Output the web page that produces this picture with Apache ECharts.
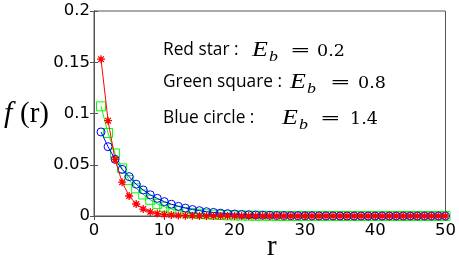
<!DOCTYPE html>
<html><head><meta charset="utf-8">
<script src="https://cdn.jsdelivr.net/npm/echarts@6/dist/echarts.min.js"></script>
<style>html,body{margin:0;padding:0;background:#fff}#c{width:459px;height:257px}</style>
</head><body><div id="c"></div>
<script>
var rValues = [];
for (var i = 1; i <= 50; i++) rValues.push(i);
var redStar = [0.153,0.093,0.055,0.033,0.0195,0.0117,0.0068,0.004,0.0024,0.0014,0.0009,0.0005,0.0003,0.0002,0.0001,0.0001,0,0,0,0,0,0,0,0,0,0,0,0,0,0,0,0,0,0,0,0,0,0,0,0,0,0,0,0,0,0,0,0,0,0];
var greenSquare = [0.107,0.081,0.061,0.0465,0.035,0.027,0.021,0.0158,0.0118,0.009,0.0068,0.0052,0.0039,0.003,0.0022,0.0017,0.0013,0.001,0.0007,0.0005,0.0004,0.0003,0.0002,0.0002,0.0001,0.0001,0,0,0,0,0,0,0,0,0,0,0,0,0,0,0,0,0,0,0,0,0,0,0,0];
var blueCircle = [0.082,0.0676,0.0553,0.0455,0.0384,0.031,0.0254,0.0207,0.0172,0.014,0.0115,0.0094,0.0077,0.0063,0.0052,0.0042,0.0035,0.0028,0.0023,0.0019,0.0015,0.0012,0.001,0.0008,0.0007,0.0005,0.0004,0.0003,0.0003,0.0002,0.0002,0.0001,0.0001,0.0001,0,0,0,0,0,0,0,0,0,0,0,0,0,0,0,0];
var xTicks = [0,10,20,30,40,50];
var yTicks = [0,0.05,0.1,0.15,0.2];
var legendLabels = ['Red star :', 'Green square :', 'Blue circle :'];
var legendValues = ['0.2', '0.8', '1.4'];
var xName = 'r';

function pairs(arr){ return arr.map(function(v,i){ return [rValues[i], v]; }); }
var chart = echarts.init(document.getElementById('c'), null, {renderer:'canvas'});
var axisColor = '#555';
var tickFont = {fontFamily:'DejaVu Sans', fontSize:16.5, color:'#000'};
var starPath = 'path://M0,-10L0,10M-10,0L10,0M-7,-7L7,7M-7,7L7,-7';

// layout of annotation lines (positions only)
var lineLayout = [
  {cy:50, eX:252, eqX:290, vX:317},
  {cy:82, eX:290, eqX:330, vX:358},
  {cy:118, eX:282, eqX:320, vX:350}
];
var graphics = [
  {type:'text', x:4, y:114, style:{text:'f', fontFamily:'Liberation Serif', fontStyle:'italic', fontSize:30, fill:'#000', verticalAlign:'middle'}},
  {type:'text', x:20, y:114, style:{text:'(r)', fontFamily:'Liberation Serif', fontSize:29, fill:'#000', verticalAlign:'middle'}},
  {type:'text', x:267, y:247, style:{text:xName, fontFamily:'Liberation Serif', fontSize:29, fill:'#000', verticalAlign:'middle'}}
];
lineLayout.forEach(function(L, k){
  graphics.push({type:'text', x:163, y:L.cy, style:{text:legendLabels[k], fontFamily:'Open Sans', fontSize:17.3, fill:'#000', verticalAlign:'middle'}});
  graphics.push({type:'text', x:L.eX, y:L.cy+1, scaleX:1.3, style:{text:'E', fontFamily:'Liberation Serif', fontStyle:'italic', fontSize:20, fill:'#000', verticalAlign:'middle'}});
  graphics.push({type:'text', x:L.eX+17, y:L.cy+7, scaleX:1.15, style:{text:'b', fontFamily:'Liberation Serif', fontStyle:'italic', fontSize:15.5, fill:'#000', verticalAlign:'middle'}});
  graphics.push({type:'text', x:L.eqX, y:L.cy+1, scaleX:1.45, style:{text:'=', fontFamily:'DejaVu Serif', fontSize:17, fill:'#000', verticalAlign:'middle'}});
  graphics.push({type:'text', x:L.vX, y:L.cy+1, style:{text:legendValues[k], fontFamily:'DejaVu Serif', fontSize:17.5, fill:'#000', verticalAlign:'middle'}});
});

chart.setOption({
  animation:false,
  grid:{left:94, right:13, top:11, bottom:41, show:true, borderColor:axisColor, borderWidth:1},
  xAxis:[{type:'value', min:0, max:50, interval:10,
    axisLine:{show:true, lineStyle:{color:axisColor}},
    axisTick:{show:true, inside:true, length:4, lineStyle:{color:axisColor}},
    splitLine:{show:false},
    axisLabel:Object.assign({margin:6, formatter:function(v){return String(v);}}, tickFont)
  },{type:'value', min:0, max:50, interval:10, position:'top',
    axisLine:{show:true, lineStyle:{color:axisColor}},
    axisTick:{show:true, inside:true, length:4, lineStyle:{color:axisColor}},
    splitLine:{show:false}, axisLabel:{show:false}}],
  yAxis:[{type:'value', min:0, max:0.2, interval:0.05,
    axisLine:{show:true, lineStyle:{color:axisColor}},
    axisTick:{show:true, inside:true, length:4, lineStyle:{color:axisColor}},
    splitLine:{show:false},
    axisLabel:Object.assign({margin:4, formatter:function(v){return String(+v.toFixed(2));}}, tickFont)
  },{type:'value', min:0, max:0.2, interval:0.05, position:'right',
    axisLine:{show:true, lineStyle:{color:axisColor}},
    axisTick:{show:true, inside:true, length:4, lineStyle:{color:axisColor}},
    splitLine:{show:false}, axisLabel:{show:false}}],
  series:[
    {type:'line', data:pairs(greenSquare), symbol:'rect', symbolSize:9,
      lineStyle:{color:'#00ff00', width:1}, itemStyle:{color:'rgba(0,0,0,0)', borderColor:'#00ff00', borderWidth:1}, z:2},
    {type:'line', data:pairs(blueCircle), symbol:'circle', symbolSize:8,
      lineStyle:{color:'#0000ff', width:1}, itemStyle:{color:'rgba(0,0,0,0)', borderColor:'#0000ff', borderWidth:1}, z:3},
    {type:'line', data:pairs(redStar), symbol:starPath, symbolSize:8,
      lineStyle:{color:'#ff0000', width:1}, itemStyle:{color:'#ff0000', borderColor:'#ff0000', borderWidth:1.3}, z:4}
  ],
  graphic:graphics
});
</script></body></html>
